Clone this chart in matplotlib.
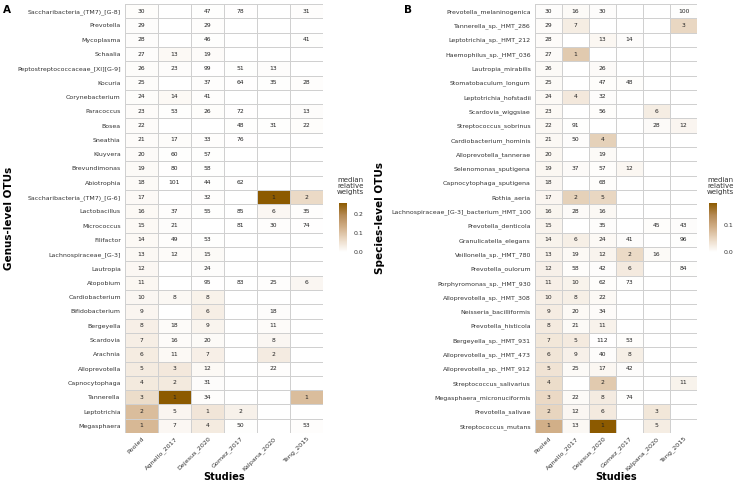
import numpy as np
import matplotlib
matplotlib.use("Agg")
import matplotlib.pyplot as plt
from matplotlib.colors import LinearSegmentedColormap

nan = np.nan
studies = ["Pooled", "Agnello_2017", "Dejesus_2020", "Gomez_2017", "Kalpana_2020", "Teng_2015"]

genus_labels = [
    "Saccharibacteria_(TM7)_[G-8]", "Prevotella", "Mycoplasma", "Schaalia",
    "Peptostreptococcaceae_[XI][G-9]", "Kocuria", "Corynebacterium", "Paracoccus",
    "Bosea", "Sneathia", "Kluyvera", "Brevundimonas", "Abiotrophia",
    "Saccharibacteria_(TM7)_[G-6]", "Lactobacillus", "Micrococcus", "Filifactor",
    "Lachnospiraceae_[G-3]", "Lautropia", "Atopobium", "Cardiobacterium",
    "Bifidobacterium", "Bergeyella", "Scardovia", "Arachnia", "Alloprevotella",
    "Capnocytophaga", "Tannerella", "Leptotrichia", "Megasphaera",
]
genus_ranks = [
    [30, nan, 47, 78, nan, 31],
    [29, nan, 29, nan, nan, nan],
    [28, nan, 46, nan, nan, 41],
    [27, 13, 19, nan, nan, nan],
    [26, 23, 99, 51, 13, nan],
    [25, nan, 37, 64, 35, 28],
    [24, 14, 41, nan, nan, nan],
    [23, 53, 26, 72, nan, 13],
    [22, nan, nan, 48, 31, 22],
    [21, 17, 33, 76, nan, nan],
    [20, 60, 57, nan, nan, nan],
    [19, 80, 58, nan, nan, nan],
    [18, 101, 44, 62, nan, nan],
    [17, nan, 32, nan, 1, 2],
    [16, 37, 55, 85, 6, 35],
    [15, 21, nan, 81, 30, 74],
    [14, 49, 53, nan, nan, nan],
    [13, 12, 15, nan, nan, nan],
    [12, nan, 24, nan, nan, nan],
    [11, nan, 95, 83, 25, 6],
    [10, 8, 8, nan, nan, nan],
    [9, nan, 6, nan, 18, nan],
    [8, 18, 9, nan, 11, nan],
    [7, 16, 20, nan, 8, nan],
    [6, 11, 7, nan, 2, nan],
    [5, 3, 12, nan, 22, nan],
    [4, 2, 31, nan, nan, nan],
    [3, 1, 34, nan, nan, 1],
    [2, 5, 1, 2, nan, nan],
    [1, 7, 4, 50, nan, 53],
]
genus_weights = [
    [.005, nan, .003, .002, nan, .004],
    [.006, nan, .004, nan, nan, nan],
    [.006, nan, .003, nan, nan, .003],
    [.006, .012, .008, nan, nan, nan],
    [.007, .006, .002, .003, .006, nan],
    [.007, nan, .004, .002, .003, .004],
    [.007, .012, .004, nan, nan, nan],
    [.008, .003, .005, .002, nan, .006],
    [.008, nan, nan, .003, .003, .005],
    [.008, .007, .004, .002, nan, nan],
    [.009, .003, .003, nan, nan, nan],
    [.010, .002, .003, nan, nan, nan],
    [.010, .001, .003, .002, nan, nan],
    [.011, nan, .004, nan, .26, .065],
    [.012, .004, .003, .001, .014, .004],
    [.012, .006, nan, .001, .004, .002],
    [.012, .004, .003, nan, nan, nan],
    [.013, .008, .010, nan, nan, nan],
    [.014, nan, .006, nan, nan, .001],
    [.015, nan, .002, .001, .004, .016],
    [.016, .013, .024, nan, nan, nan],
    [.018, nan, .030, nan, .006, nan],
    [.028, .008, .020, nan, .008, .001],
    [.030, .008, .010, nan, .016, nan],
    [.034, .012, .028, nan, .035, nan],
    [.036, .040, .012, .001, .004, nan],
    [.038, .038, .006, nan, nan, nan],
    [.060, .260, .004, .001, nan, .110],
    [.110, .018, .045, .025, nan, nan],
    [.118, .014, .036, .003, nan, .004],
]

species_labels = [
    "Prevotella_melaninogenica", "Tannerella_sp._HMT_286", "Leptotrichia_sp._HMT_212",
    "Haemophilus_sp._HMT_036", "Lautropia_mirabilis", "Stomatobaculum_longum",
    "Leptotrichia_hofstadii", "Scardovia_wiggsiae", "Streptococcus_sobrinus",
    "Cardiobacterium_hominis", "Alloprevotella_tannerae", "Selenomonas_sputigena",
    "Capnocytophaga_sputigena", "Rothia_aeria", "Lachnospiraceae_[G-3]_bacterium_HMT_100",
    "Prevotella_denticola", "Granulicatella_elegans", "Veillonella_sp._HMT_780",
    "Prevotella_oulorum", "Porphyromonas_sp._HMT_930", "Alloprevotella_sp._HMT_308",
    "Neisseria_bacilliformis", "Prevotella_histicola", "Bergeyella_sp._HMT_931",
    "Alloprevotella_sp._HMT_473", "Alloprevotella_sp._HMT_912", "Streptococcus_salivarius",
    "Megasphaera_micronuciformis", "Prevotella_salivae", "Streptococcus_mutans",
]
species_ranks = [
    [30, 16, 30, nan, nan, 100],
    [29, 7, nan, nan, nan, 3],
    [28, nan, 13, 14, nan, nan],
    [27, 1, nan, nan, nan, nan],
    [26, nan, 26, nan, nan, nan],
    [25, nan, 47, 48, nan, nan],
    [24, 4, 32, nan, nan, nan],
    [23, nan, 56, nan, 6, nan],
    [22, 91, nan, nan, 28, 12],
    [21, 50, 4, nan, nan, nan],
    [20, nan, 19, nan, nan, nan],
    [19, 37, 57, 12, nan, nan],
    [18, nan, 68, nan, nan, nan],
    [17, 2, 5, nan, nan, nan],
    [16, 28, 16, nan, nan, nan],
    [15, nan, 35, nan, 45, 43],
    [14, 6, 24, 41, nan, 96],
    [13, 19, 12, 2, 16, nan],
    [12, 58, 42, 6, nan, 84],
    [11, 10, 62, 73, nan, nan],
    [10, 8, 22, nan, nan, nan],
    [9, 20, 34, nan, nan, nan],
    [8, 21, 11, nan, nan, nan],
    [7, 5, 112, 53, nan, nan],
    [6, 9, 40, 8, nan, nan],
    [5, 25, 17, 42, nan, nan],
    [4, nan, 2, nan, nan, 11],
    [3, 22, 8, 74, nan, nan],
    [2, 12, 6, nan, 3, nan],
    [1, 13, 1, nan, 5, nan],
]
species_weights = [
    [.004, .007, .004, nan, nan, .002],
    [.005, .022, nan, nan, nan, .048],
    [.005, nan, .010, .004, nan, nan],
    [.006, .062, nan, nan, nan, nan],
    [.007, nan, .006, nan, nan, nan],
    [.007, nan, .003, .003, nan, nan],
    [.008, .028, .004, nan, nan, nan],
    [.008, nan, .003, nan, .022, nan],
    [.009, .002, nan, nan, .006, .012],
    [.009, .004, .055, nan, nan, nan],
    [.010, nan, .007, nan, nan, nan],
    [.010, .006, .003, .010, nan, nan],
    [.011, nan, .003, nan, nan, nan],
    [.012, .055, .048, nan, nan, nan],
    [.013, .006, .009, nan, nan, nan],
    [.014, nan, .004, nan, .003, .004],
    [.015, .020, .008, .004, nan, .002],
    [.016, .008, .014, .045, .007, nan],
    [.018, .003, .004, .026, nan, .002],
    [.019, .015, .003, .002, nan, nan],
    [.021, .020, .008, nan, nan, nan],
    [.023, .008, .005, nan, nan, nan],
    [.026, .007, .016, nan, nan, nan],
    [.030, .026, .001, .003, nan, nan],
    [.032, .018, .004, .020, nan, nan],
    [.034, .007, .010, .004, nan, nan],
    [.042, nan, .062, nan, nan, .015],
    [.046, .007, .024, .002, nan, nan],
    [.050, .011, .026, nan, .030, nan],
    [.092, .009, .180, nan, .022, nan],
]

cmap = LinearSegmentedColormap.from_list("brn", ["#FFFFFF", "#EBDAC6", "#D2B08A", "#B58A55", "#8C5A00"])
cmap.set_bad("white")

W, H = 738, 484
fig = plt.figure(figsize=(W / 100, H / 100), dpi=100)


def fx(px):
    return px / W


def fy(py):
    return 1 - py / H


def panel(left, right, labels, ranks, weights, ylab, ylab_x, letter, letter_x, cbx, ticks):
    ax = fig.add_axes([fx(left), fy(433), fx(right - left), fy(4) - fy(433)])
    w = np.array(weights, dtype=float)
    r = np.array(ranks, dtype=float)
    wm = np.ma.masked_invalid(w)
    vmax = np.nanmax(w)
    nr, nc = w.shape
    mesh = ax.pcolormesh(np.arange(nc + 1), np.arange(nr + 1), wm, cmap=cmap,
                         vmin=0, vmax=vmax, edgecolors="#d0d0d0", linewidth=0.5)
    ax.set_ylim(nr, 0)
    ax.set_xlim(0, nc)
    for i in range(nr):
        for j in range(nc):
            if not np.isnan(r[i, j]):
                ax.text(j + 0.5, i + 0.5, str(int(r[i, j])), ha="center", va="center",
                        fontsize=4.3, color="#222222")
    ax.set_yticks(np.arange(nr) + 0.5)
    ax.set_yticklabels(labels, fontsize=4.5, color="#333333")
    ax.set_xticks(np.arange(nc) + 0.5)
    ax.set_xticklabels(studies, fontsize=4.6, rotation=45, ha="right",
                       rotation_mode="anchor", color="#333333")
    ax.tick_params(axis="y", length=0, pad=3)
    ax.tick_params(axis="x", length=0, pad=2)
    for s in ax.spines.values():
        s.set_visible(False)
    fig.text(fx((left + right) / 2), fy(477), "Studies", fontsize=7, fontweight="bold",
             ha="center", va="center")
    fig.text(fx(ylab_x), fy(218), ylab, rotation=90, fontsize=7.5, fontweight="bold",
             ha="center", va="center")
    fig.text(fx(letter_x), fy(10), letter, fontsize=7.5, fontweight="bold",
             ha="left", va="center")
    # legend
    fig.text(fx(cbx - 2), fy(177), "median\nrelative\nweights", fontsize=5,
             ha="left", va="top", color="#333333", linespacing=1.0)
    cax = fig.add_axes([fx(cbx), fy(252), fx(8), fy(203) - fy(252)])
    cb = fig.colorbar(mesh, cax=cax, ticks=ticks)
    cb.outline.set_visible(False)
    cb.ax.tick_params(labelsize=4.5, length=2, color="white", labelcolor="#333333", pad=3)
    cb.ax.set_yticklabels([f"{t:.1f}" for t in ticks])
    return ax


panel(125, 323, genus_labels, genus_ranks, genus_weights, "Genus-level OTUs", 9,
      "A", 3, 339, [0.0, 0.1, 0.2])
panel(535, 697, species_labels, species_ranks, species_weights, "Species-level OTUs", 380,
      "B", 404, 709, [0.0, 0.1])

fig.savefig("out.png", dpi=100)
